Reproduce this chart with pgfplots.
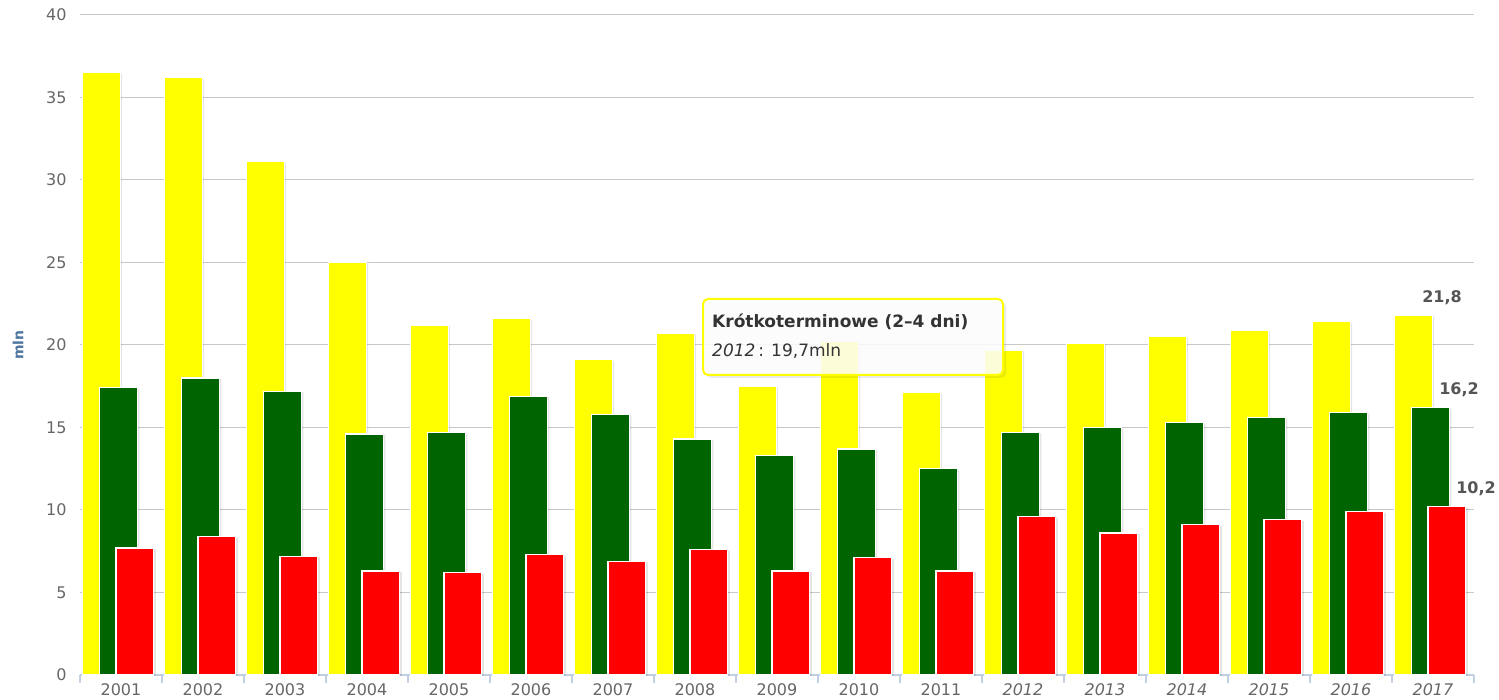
\documentclass[border=0pt]{standalone}
\usepackage{fontspec}
\setmainfont{DejaVu Sans}
\usepackage{pgfplots}
\usepackage{pgfplotstable}
\pgfplotsset{compat=1.18}
\definecolor{cy}{HTML}{FFFF00}
\definecolor{cg}{HTML}{006400}
\definecolor{cr}{HTML}{FF0000}
\definecolor{gridc}{HTML}{C8C8C8}
\definecolor{axisc}{HTML}{C0D0E0}
\definecolor{labc}{HTML}{666666}
\definecolor{titc}{HTML}{4D759E}
\definecolor{dlab}{HTML}{555555}
\pgfplotstableread{
x y g r
0 36.5 17.4 7.7
1 36.2 18.0 8.4
2 31.1 17.2 7.2
3 25.0 14.6 6.3
4 21.2 14.7 6.2
5 21.6 16.9 7.3
6 19.1 15.8 6.9
7 20.7 14.3 7.6
8 17.5 13.3 6.3
9 20.2 13.7 7.1
10 17.1 12.5 6.3
11 19.7 14.7 9.6
12 20.1 15.0 8.6
13 20.5 15.3 9.1
14 20.9 15.6 9.4
15 21.4 15.9 9.9
16 21.8 16.2 10.2
}\data
\begin{document}
\begin{tikzpicture}[x=1pt,y=1pt]
\path[use as bounding box] (0,0) rectangle (1499,700);
\begin{axis}[
  at={(80pt,25pt)}, anchor=south west,
  scale only axis, width=1394pt, height=660pt,
  xmin=-0.5, xmax=16.5, ymin=0, ymax=40,
  axis lines*=left,
  y axis line style={draw=none},
  x axis line style={draw=axisc, line width=1.2pt},
  ytick={0,5,...,40},
  ymajorgrids, grid style={draw=gridc, line width=1pt},
  ytick style={draw=none},
  xtick={0,...,16},
  xticklabels={2001,2002,2003,2004,2005,2006,2007,2008,2009,2010,2011,\textit{2012},\textit{2013},\textit{2014},\textit{2015},\textit{2016},\textit{2017}},
  major tick length=0pt,
  major x tick style={draw=none},
  minor xtick={-0.5,0.5,...,16.5},
  minor x tick style={draw=axisc, line width=1.2pt},
  minor tick length=8pt,
  tick align=outside,
  /pgf/number format/assume math mode=true,
  tick label style={font=\fontsize{16}{19}\selectfont, color=labc},
  yticklabel style={xshift=-10pt},
  xticklabel style={yshift=-5pt},
  clip=false,
]
% shadows + bars
\addplot[ybar, bar width=0.46, bar shift=-0.24, fill=black, fill opacity=0.10, draw=none, xshift=2pt, yshift=-1pt, forget plot] table[x=x,y=y]{\data};
\addplot[ybar, bar width=0.46, bar shift=-0.24, fill=cy, draw=white, line width=1.2pt] table[x=x,y=y]{\data};
\addplot[ybar, bar width=0.46, bar shift=-0.03, fill=black, fill opacity=0.10, draw=none, xshift=2pt, yshift=-1pt, forget plot] table[x=x,y=g]{\data};
\addplot[ybar, bar width=0.46, bar shift=-0.03, fill=cg, draw=white, line width=1.2pt] table[x=x,y=g]{\data};
\addplot[ybar, bar width=0.46, bar shift=0.17, fill=black, fill opacity=0.10, draw=none, xshift=2pt, yshift=-1pt, forget plot] table[x=x,y=r]{\data};
\addplot[ybar, bar width=0.46, bar shift=0.17, fill=cr, draw=white, line width=1.2pt] table[x=x,y=r]{\data};
% data labels on the last point
\addplot[ybar, bar width=0.46, bar shift=-0.24, draw=none, fill=none, forget plot,
  point meta=explicit symbolic, nodes near coords,
  nodes near coords style={anchor=base, xshift=9pt, yshift=13pt, font=\fontsize{16}{19}\selectfont\bfseries, text=dlab}]
  coordinates {(16,21.8) [{21,8}]};
\addplot[ybar, bar width=0.46, bar shift=-0.03, draw=none, fill=none, forget plot,
  point meta=explicit symbolic, nodes near coords,
  nodes near coords style={anchor=base, xshift=26pt, yshift=13pt, font=\fontsize{16}{19}\selectfont\bfseries, text=dlab}]
  coordinates {(16,16.2) [{16,2}]};
\addplot[ybar, bar width=0.46, bar shift=0.17, draw=none, fill=none, forget plot,
  point meta=explicit symbolic, nodes near coords,
  nodes near coords style={anchor=base, xshift=43pt, yshift=13pt, font=\fontsize{16}{19}\selectfont\bfseries, text=dlab}]
  coordinates {(16,10.2) [{10,2}]};
\end{axis}
% y axis title
\node[rotate=90, text=titc, font=\fontsize{14}{16}\selectfont\bfseries] at (18,355) {mln};
% tooltip
\fill[black, opacity=0.08, rounded corners=5pt] (706,322) rectangle (1006,398);
\fill[white, opacity=0.85, rounded corners=5pt] (703,325) rectangle (1003,401);
\draw[cy, line width=2pt, rounded corners=5pt] (703,325) rectangle (1003,401);
\node[anchor=base west, inner sep=0pt, font=\fontsize{17}{20}\selectfont\bfseries, text=black!80] at (712,372) {Krótkoterminowe (2–4 dni)};
\node[anchor=base west, inner sep=0pt, font=\fontsize{17}{20}\selectfont, text=black!80] at (712,343) {\textit{2012}\,: 19,7mln};
\end{tikzpicture}
\end{document}
